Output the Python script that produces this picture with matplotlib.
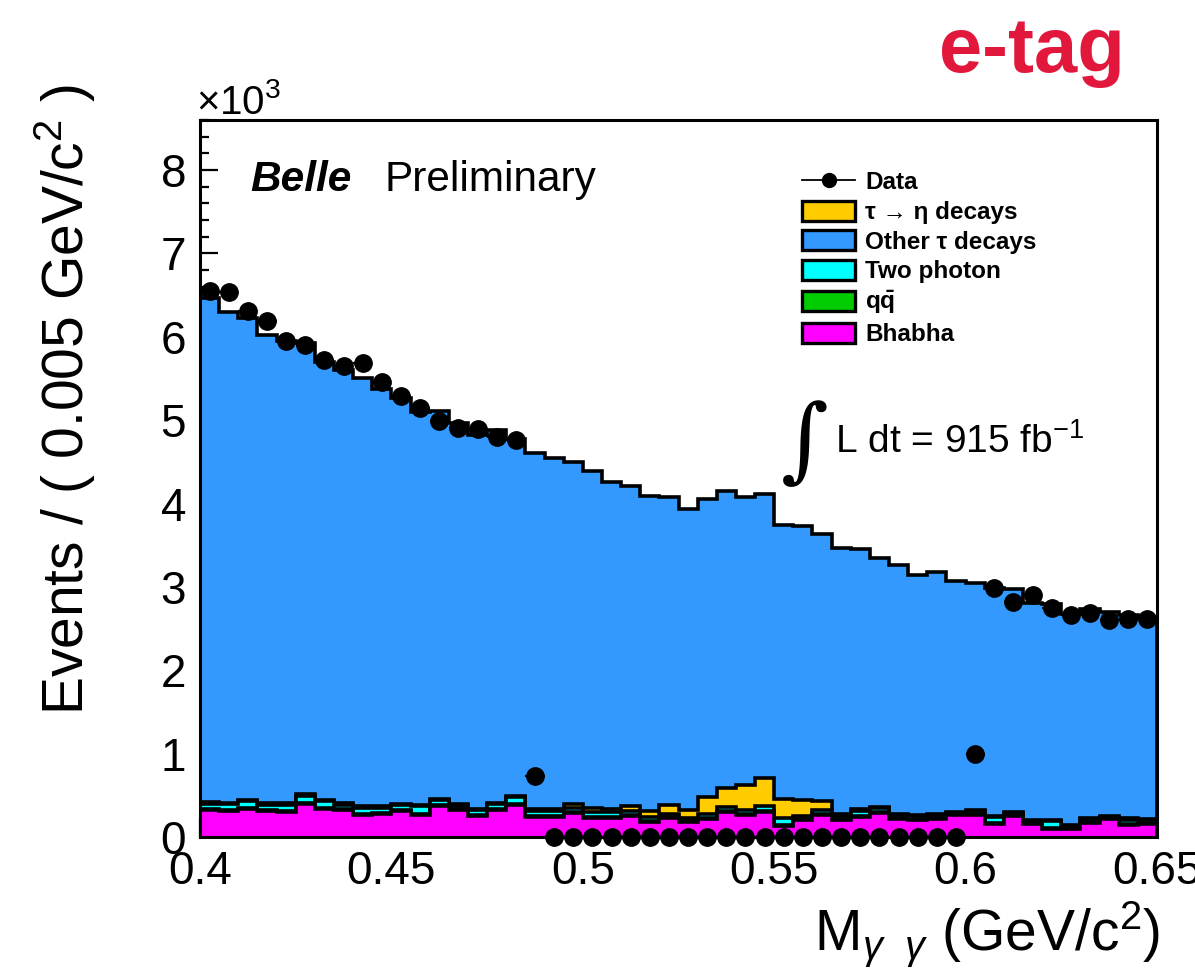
import numpy as np
import matplotlib
matplotlib.use("Agg")
import matplotlib.pyplot as plt
from matplotlib.patches import Patch
from matplotlib.lines import Line2D
from matplotlib.ticker import MultipleLocator, FuncFormatter

plt.rcParams['font.family'] = ['Liberation Sans', 'DejaVu Sans']
plt.rcParams['mathtext.fontset'] = 'custom'
plt.rcParams['mathtext.rm'] = 'Liberation Sans'
plt.rcParams['mathtext.it'] = 'Liberation Sans:italic'
plt.rcParams['mathtext.bf'] = 'Liberation Sans:bold'

# binning: 0.4 - 0.65 GeV/c^2, 0.005 per bin
x_lo, x_hi, n_bins = 0.4, 0.65, 50

# MC components, events per bin (bottom -> top of the stack)
bhabha = [328, 308, 340, 312, 300, 400, 332, 320, 260, 280, 312, 268, 372, 320, 248, 328, 385,
          244, 240, 284, 232, 232, 252, 184, 232, 184, 220, 304, 264, 300, 132, 200, 260,
          206, 244, 292, 220, 204, 220, 260, 264, 152, 252, 152, 100, 100, 164, 212, 140, 160]
qqbar = [12] * 50
two_photon = [60, 72, 76, 60, 76, 80, 84, 56, 76, 60, 56, 88, 56, 40, 60, 50, 78,
              50, 54, 50, 60, 54, 44, 40, 34, 34, 48, 40, 50, 60, 80, 36, 54,
              32, 60, 42, 36, 32, 36, 18, 36, 70, 28, 28, 74, 18, 42, 18, 56, 28]
tau_eta = [20, 20, 20, 20, 20, 20, 20, 20, 20, 20, 20, 20, 20, 20, 20, 20, 20,
           26, 26, 46, 40, 34, 64, 76, 102, 94, 204, 236, 294, 340, 228, 196, 106,
           31, 16, 14, 12, 14, 12, 10, 12, 18, 12, 12, 18, 10, 14, 10, 16, 12]
other_tau = [6050, 5888, 5772, 5616, 5542, 5418, 5252, 5192, 5132, 4998, 4860, 4712, 4650,
             4572, 4480, 4472, 4275, 4268, 4218, 4108, 4046, 3928, 3838, 3778, 3700, 3616,
             3566, 3558, 3460, 3408, 3288, 3286, 3208, 3189, 3128, 2990, 2980, 2880, 2900,
             2770, 2726, 2738, 2666, 2606, 2586, 2530, 2508, 2448, 2436, 2428]

# data (signal region blinded -> drawn at zero)
data = [6550, 6540, 6310, 6190, 5950, 5900, 5720, 5650, 5690, 5460, 5290, 5140, 4990,
        4900, 4890, 4800, 4760, 730, 0, 0, 0, 0, 0, 0, 0, 0, 0, 0, 0, 0, 0, 0, 0, 0, 0,
        0, 0, 0, 0, 0, 1000, 2990, 2820, 2900, 2750, 2660, 2690, 2600, 2620, 2610]

labels = ['Bhabha', r'q$\mathbf{\bar{q}}$', 'Two photon', u'\u03c4 \u2192 \u03b7 decays',
          u'Other \u03c4 decays']
colors = ['#ff00ff', '#00cc00', '#00ffff', '#ffcc00', '#3399ff']
legend_order = [3, 4, 2, 1, 0]

edges = np.linspace(x_lo, x_hi, n_bins + 1)
centers = 0.5 * (edges[1:] + edges[:-1])
half_w = 0.5 * (x_hi - x_lo) / n_bins

fig = plt.figure(figsize=(11.95, 9.73), dpi=100)
W, H = 1195.0, 973.0
ax = fig.add_axes([200 / W, 1 - 837 / H, 957 / W, (837 - 120) / H])

stack = np.cumsum(np.vstack([bhabha, qqbar, two_photon, tau_eta, other_tau]), axis=0)
# root-style THStack: draw the biggest cumulative first, smaller ones on top
for i in reversed(range(len(colors))):
    ax.stairs(stack[i], edges, baseline=0, fill=True, facecolor=colors[i],
              edgecolor='black', linewidth=2.6, zorder=2 + (4 - i) * 0.1)

ax.errorbar(centers, data, xerr=half_w, fmt='o', color='black', ms=12.5,
            elinewidth=1.5, capsize=0, clip_on=False, zorder=5)

ax.set_xlim(x_lo, x_hi)
ax.set_ylim(0, 8600)
ax.xaxis.set_major_locator(MultipleLocator(0.05))
ax.xaxis.set_minor_locator(MultipleLocator(0.01))
ax.yaxis.set_major_locator(MultipleLocator(1000))
ax.yaxis.set_minor_locator(MultipleLocator(200))
ax.xaxis.set_major_formatter(FuncFormatter(lambda v, p: '%g' % round(v, 3)))
ax.yaxis.set_major_formatter(FuncFormatter(lambda v, p: '%g' % (v / 1000.0)))
ax.tick_params(which='both', direction='in', top=False, right=False, width=1.6,
               labelsize=33, zorder=6)
ax.tick_params(which='major', length=13)
ax.tick_params(which='minor', length=6.5)
ax.tick_params(axis='y', pad=10)
ax.tick_params(axis='x', pad=9)
for sp in ax.spines.values():
    sp.set_linewidth(2.2)
    sp.set_zorder(6)

fig.text(196 / W, 1 - 102 / H, r'$\times$10$^{3}$', fontsize=29, ha='left', va='center')
fig.text(65 / W, 1 - 400 / H, r'Events / ( 0.005 GeV/c$^{2}$ )', fontsize=41,
         rotation=90, ha='center', va='center')
fig.text(1160 / W, 1 - 935 / H, r'M$_{\gamma\ \ \gamma}$ (GeV/c$^{2}$)', fontsize=41,
         ha='right', va='center')

fig.text(250 / W, 1 - 180 / H, 'Belle', fontsize=30.5, fontweight='bold',
         style='italic', ha='left', va='center')
fig.text(385 / W, 1 - 180 / H, 'Preliminary', fontsize=30.5, ha='left', va='center')

fig.text(1032 / W, 1 - 52 / H, 'e-tag', fontsize=56, fontweight='bold', color='#e2173c',
         ha='center', va='center')

fig.text(805 / W, 1 - 445 / H, u'\u222b', fontsize=66, family='DejaVu Serif',
         ha='center', va='center')
fig.text(835 / W, 1 - 442 / H, r'L dt = 915 fb$^{-1}$', fontsize=28, ha='left', va='center')

handles = [Line2D([], [], color='black', marker='o', ms=10, lw=1.3)]
names = ['Data']
for i in legend_order:
    handles.append(Patch(facecolor=colors[i], edgecolor='black', linewidth=2.4))
    names.append(labels[i])
fig.legend(handles, names, loc='upper left', bbox_to_anchor=(802 / W, 1 - 171 / H),
           frameon=False, prop={'size': 17.5, 'weight': 'bold'}, borderpad=0,
           borderaxespad=0, handlelength=2.2, handleheight=0.9, handletextpad=0.4,
           labelspacing=0.25)

fig.savefig('out.png', dpi=100)
